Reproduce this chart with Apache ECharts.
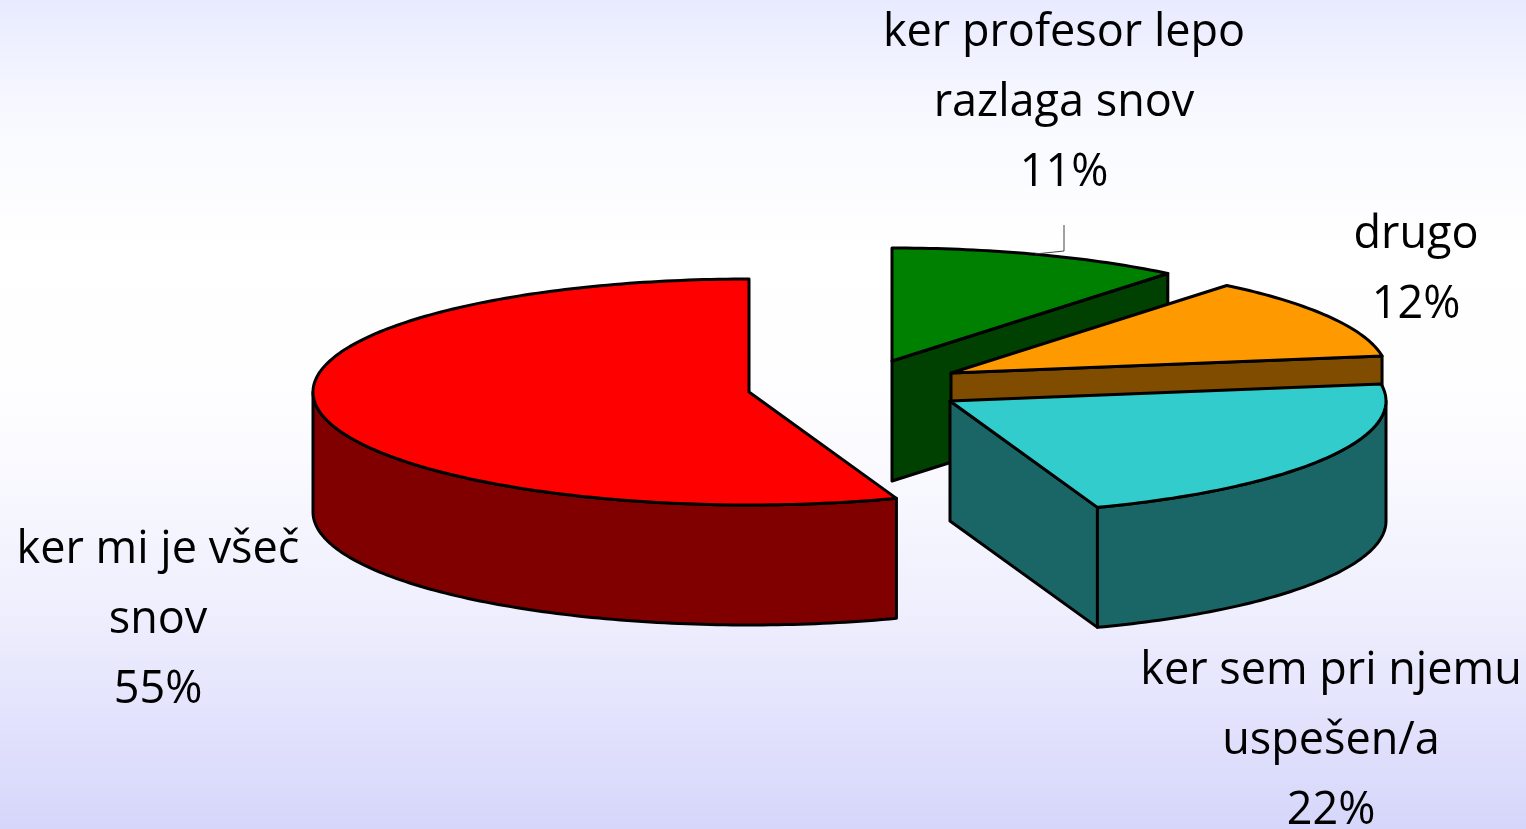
<!DOCTYPE html>
<html>
<head>
<meta charset="utf-8">
<style>html,body{margin:0;padding:0;width:100%;height:100%;overflow:hidden}#c{width:1526px;height:829px}</style>
<script src="https://cdn.jsdelivr.net/npm/echarts@6/dist/echarts.min.js"></script>
</head>
<body>
<div id="c"></div>
<script>
// Data, clockwise from twelve o'clock
const categories = ['ker profesor lepo\nrazlaga snov', 'drugo', 'ker sem pri njemu\nuspešen/a', 'ker mi je všeč\nsnov'];
const shares = [10.9, 11.7, 21.91, 55.49];

// Layout and style
const RX = 436, RY = 113, DEPTH = 120;
const centres = [[892, 361], [951, 373], [950, 401], [749, 392]];
const topColors = ['#008000', '#ff9900', '#33cccc', '#ff0000'];
const sideColors = ['#004000', '#804c00', '#1a6666', '#800000'];
const labelPos = [[1064, -2], [1416, 200], [1331, 636], [158, 515]];

const total = shares.reduce((a, b) => a + b, 0);
const chart = echarts.init(document.getElementById('c'));

function renderItem(params, api) {
  const i = params.dataIndex;
  const before = shares.slice(0, i).reduce((a, b) => a + b, 0);
  const a0 = before / total * 360, a1 = a0 + api.value(0) / total * 360;
  const [cx, cy] = centres[i];
  const pt = (deg, dz) => {
    const r = deg * Math.PI / 180;
    return [cx + RX * Math.sin(r), cy - RY * Math.cos(r) + (dz || 0)];
  };
  const arc = (from, to, dz) => {
    const out = [], n = Math.max(2, Math.ceil(Math.abs(to - from)));
    for (let k = 0; k <= n; k++) out.push(pt(from + (to - from) * k / n, dz));
    return out;
  };
  const stroke = { stroke: '#000', lineWidth: 3, lineJoin: 'round' };
  const kids = [];
  const poly = (points, fill) => kids.push({
    type: 'polygon', shape: { points }, style: Object.assign({ fill }, stroke)
  });
  // radial face at the clockwise end, seen only in the front half
  if (a1 < 180) {
    poly([[cx, cy], pt(a1), pt(a1, DEPTH), [cx, cy + DEPTH]], sideColors[i]);
  }
  // rim wall
  const f0 = Math.max(a0, 90), f1 = Math.min(a1, 270);
  if (f1 > f0) {
    poly(arc(f0, f1, 0).concat(arc(f1, f0, DEPTH)), sideColors[i]);
  }
  // top face
  poly([[cx, cy]].concat(arc(a0, a1, 0)), topColors[i]);
  // leader line of the first label
  if (i === 0) {
    kids.push({
      type: 'polyline',
      shape: { points: [[1064, 225], [1064, 251], [1035, 254]] },
      style: { stroke: '#444', lineWidth: 1, fill: null }
    });
  }
  // label
  kids.push({
    type: 'text', z2: 10,
    style: {
      text: categories[i] + '\n' + Math.round(api.value(0)) + '%',
      x: labelPos[i][0], y: labelPos[i][1],
      align: 'center', verticalAlign: 'top',
      font: '45px "Open Sans"', lineHeight: 70, fill: '#000'
    }
  });
  return { type: 'group', children: kids };
}

chart.setOption({
  animation: false,
  backgroundColor: new echarts.graphic.LinearGradient(0, 0, 0, 1, [
    { offset: 0, color: '#e8ebff' },
    { offset: 0.14, color: '#f8f9ff' },
    { offset: 0.3, color: '#ffffff' },
    { offset: 0.5, color: '#fdfdff' },
    { offset: 0.72, color: '#f0f0fe' },
    { offset: 1, color: '#d6d6fb' }
  ]),
  series: [{
    type: 'custom',
    coordinateSystem: 'none',
    renderItem,
    clip: false,
    silent: true,
    data: shares.map(v => [v])
  }]
});
</script>
</body>
</html>
